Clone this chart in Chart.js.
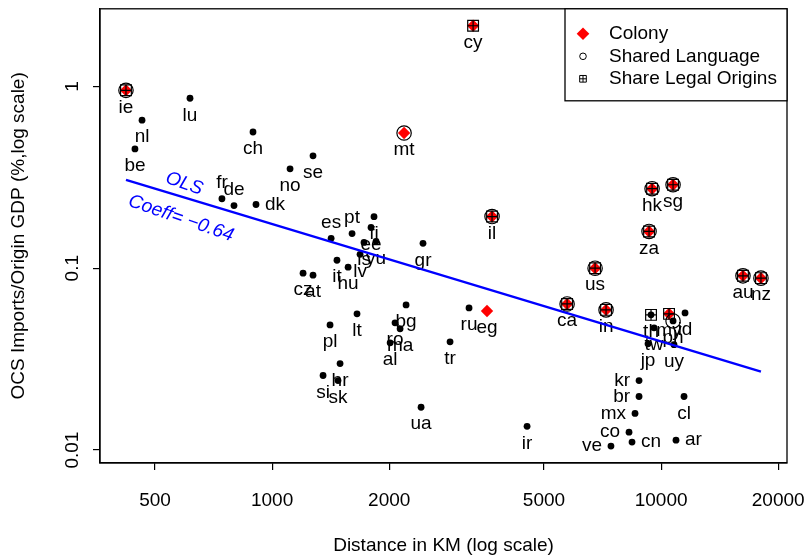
<!DOCTYPE html>
<html><head><meta charset="utf-8">
<script src="https://cdn.jsdelivr.net/npm/chart.js@4/dist/chart.umd.min.js"></script>
<style>html,body{margin:0;padding:0;background:#fff;}</style>
</head><body>
<canvas id="c" width="805" height="558"></canvas>
<script>
// ---------------- DATA ----------------
const countries = ['ie','nl','be','lu','ch','mt','cy','se','no','fr','de','dk','es','pt','fi','ee','is','yu','lv','it','hu','cz','at','gr','il','ru','eg','lt','pl','bg','ro','ma','al','tr','hr','si','sk','ua','ir','ca','us','in','hk','sg','za','th','my','ph','id','tw','jp','uy','kr','br','mx','cl','co','ve','cn','ar','au','nz'];
const distanceKm = [421,463,444,615,893,2184,3286,1274,1112,743,798,909,1418,1605,1828,1796,1723,1850,1683,1468,1568,1201,1274,2443,3676,3208,3568,1653,1409,2210,2070,2133,2011,2867,1495,1352,1477,2415,4523,5732,6765,7219,9480,10733,9311,9421,10481,10733,11522,9592,9255,10795,8776,8776,8570,11454,8271,7432,8419,10922,16236,18059];
const importsShare = [0.951,0.652,0.453,0.860,0.561,0.554,2.154,0.415,0.352,0.241,0.221,0.224,0.146,0.155,0.192,0.1675,0.1387,0.1405,0.1193,0.1106,0.1013,0.0939,0.0916,0.137,0.1924,0.0605,0.0582,0.0561,0.0488,0.0628,0.0501,0.0464,0.0389,0.0394,0.0299,0.0257,0.0241,0.0172,0.0135,0.0636,0.100,0.0590,0.2737,0.2877,0.1593,0.0554,0.0561,0.0513,0.0568,0.0470,0.0384,0.0380,0.0241,0.0197,0.0159,0.0197,0.01254,0.01052,0.01106,0.01134,0.0908,0.0882];
const colonyList = ['ie','mt','cy','il','eg','ca','us','in','hk','sg','za','my','au','nz'];
const sharedLanguageList = ['ie','mt','il','ca','us','in','hk','sg','za','ph','au','nz'];
const legalOriginList = ['ie','cy','il','ca','us','in','hk','sg','za','th','my','au','nz'];
const olsDistance = [421, 18059];
const olsShare = [0.306, 0.027];
const olsText = ['OLS', 'Coeff= \u22120.64'];
const xTicks = [500, 1000, 2000, 5000, 10000, 20000];
const yTicks = [0.01, 0.1, 1];
const yTickLabels = ['0.01', '0.1', '1'];
const legendLabels = ['Colony', 'Shared Language', 'Share Legal Origins'];
const xTitle = 'Distance in KM (log scale)';
const yTitle = 'OCS Imports/Origin GDP (%,log scale)';

// label placement (style): default below
const labelAbove = ['fr','de','es','pt'];
const labelLeft = ['kr','br','mx','co','ve'];
const labelRight = ['dk','cn','ar'];

// ---------------- BUILD ----------------
const FONT = '"Liberation Sans", Arial, Helvetica, sans-serif';
const FS = 19;
const pts = countries.map((c,i)=>({x: distanceKm[i], y: importsShare[i], c}));
const pick = list => pts.filter(p => list.includes(p.c));

const labelPlugin = {
  id: 'labels',
  beforeDatasetsDraw(chart) {
    const ctx = chart.ctx, meta = chart.getDatasetMeta(0);
    ctx.save();
    ctx.font = FS + 'px ' + FONT;
    ctx.fillStyle = '#000';
    meta.data.forEach((el, i) => {
      const c = countries[i];
      let x = el.x, y = el.y;
      ctx.textBaseline = 'middle';
      if (labelAbove.includes(c)) { ctx.textAlign = 'center'; ctx.fillText(c, x, y - 16); }
      else if (labelLeft.includes(c)) { ctx.textAlign = 'right'; ctx.fillText(c, x - 9, y); }
      else if (labelRight.includes(c)) { ctx.textAlign = 'left'; ctx.fillText(c, x + 9, y); }
      else { ctx.textAlign = 'center'; ctx.fillText(c, x, y + 17); }
    });
    ctx.restore();
  }
};

function pointGlyph(ctx, style, r, x, y, fill, stroke, lw) {
  ctx.save();
  ctx.fillStyle = fill; ctx.strokeStyle = stroke; ctx.lineWidth = lw;
  if (Chart.helpers && Chart.helpers.drawPoint) {
    Chart.helpers.drawPoint(ctx, {pointStyle: style, radius: r, rotation: 0, borderWidth: lw}, x, y);
  }
  ctx.restore();
}

const framePlugin = {
  id: 'frame',
  afterDraw(chart) {
    const ctx = chart.ctx, a = chart.chartArea;
    const ys = chart.scales.y, xs = chart.scales.x;
    ctx.save();
    ctx.strokeStyle = '#000'; ctx.lineWidth = 1.3;
    ctx.strokeRect(a.left, a.top, a.right - a.left, a.bottom - a.top);
    ctx.font = FS + 'px ' + FONT; ctx.fillStyle = '#000';
    ctx.textAlign = 'center'; ctx.textBaseline = 'middle';
    yTicks.forEach((v, i) => {
      const py = ys.getPixelForValue(v);
      ctx.save(); ctx.translate(a.left - 27, py); ctx.rotate(-Math.PI/2);
      ctx.fillText(yTickLabels[i], 0, 0); ctx.restore();
    });
    ctx.fillStyle = '#0000FF';
    ctx.font = 'italic ' + FS + 'px ' + FONT;
    const ang = 19 * Math.PI / 180;
    const ann = [[594, 0.2914], [583, 0.1877]];
    ann.forEach((p, i) => {
      const px = xs.getPixelForValue(p[0]), py = ys.getPixelForValue(p[1]);
      ctx.save(); ctx.translate(px, py); ctx.rotate(ang);
      ctx.fillText(olsText[i], 0, 0); ctx.restore();
    });
    const lw = 222, lh = 92;
    const lx = a.right - lw, ly = a.top;
    ctx.fillStyle = '#fff';
    ctx.fillRect(lx, ly, lw, lh);
    ctx.strokeStyle = '#000'; ctx.lineWidth = 1.3;
    ctx.strokeRect(lx, ly, lw, lh);
    ctx.font = FS + 'px ' + FONT; ctx.fillStyle = '#000';
    ctx.textAlign = 'left'; ctx.textBaseline = 'middle';
    const rows = [ly + 25, ly + 47.5, ly + 70];
    legendLabels.forEach((t, i) => ctx.fillText(t, lx + 44, rows[i]));
    const sx = lx + 18;
    pointGlyph(ctx, 'rectRot', 6.3, sx, rows[0], '#ff0000', '#ff0000', 0);
    pointGlyph(ctx, 'circle', 3.3, sx, rows[1], 'rgba(0,0,0,0)', '#000', 1);
    pointGlyph(ctx, 'rect', 4.7, sx, rows[2], 'rgba(0,0,0,0)', '#000', 1);
    pointGlyph(ctx, 'cross', 3.3, sx, rows[2], 'rgba(0,0,0,0)', '#000', 1);
    ctx.restore();
  }
};

const common = {showLine: false, pointHoverRadius: 0};
new Chart(document.getElementById('c'), {
  type: 'scatter',
  data: {
    datasets: [
      Object.assign({label: 'all', data: pts, pointStyle: 'circle', pointRadius: 3.4, backgroundColor: '#000', borderWidth: 0, order: 6}, common),
      Object.assign({label: 'colony', data: pick(colonyList), pointStyle: 'rectRot', pointRadius: 6.2, backgroundColor: '#ff0000', borderWidth: 0, order: 5}, common),
      Object.assign({label: 'lang', data: pick(sharedLanguageList), pointStyle: 'circle', pointRadius: 7.2, backgroundColor: 'rgba(0,0,0,0)', borderColor: '#000', borderWidth: 1.2, order: 4}, common),
      Object.assign({label: 'legalRect', data: pick(legalOriginList), pointStyle: 'rect', pointRadius: 7.6, backgroundColor: 'rgba(0,0,0,0)', borderColor: '#000', borderWidth: 1.2, order: 3}, common),
      Object.assign({label: 'legalCross', data: pick(legalOriginList), pointStyle: 'cross', pointRadius: 5.4, borderColor: '#000', borderWidth: 1.2, order: 2}, common),
      {type: 'line', label: 'OLS', data: olsDistance.map((d,i)=>({x: d, y: olsShare[i]})), borderColor: '#0000FF', borderWidth: 2.3, pointRadius: 0, fill: false, order: 1}
    ]
  },
  options: {
    responsive: false, animation: false, devicePixelRatio: 1,
    layout: {padding: {top: 3, right: 18, left: 0, bottom: 0}},
    plugins: {legend: {display: false}, tooltip: {enabled: false}},
    events: [],
    scales: {
      x: {
        type: 'logarithmic', min: 361, max: 21070,
        afterBuildTicks: s => { s.ticks = xTicks.map(v => ({value: v})); },
        afterFit: s => { s.height = 95; s.paddingLeft = 0; s.paddingRight = 0; },
        ticks: {font: {family: FONT, size: FS}, color: '#000', padding: 19, autoSkip: false, maxRotation: 0, minRotation: 0, callback: v => String(v)},
        grid: {drawOnChartArea: false, drawTicks: true, tickLength: 7, color: '#000', lineWidth: 1.2},
        border: {display: true, color: '#000', width: 1.3},
        title: {display: true, text: xTitle, font: {family: FONT, size: FS}, color: '#000', padding: {top: 0, bottom: 1}}
      },
      y: {
        type: 'logarithmic', min: 0.00849, max: 2.67,
        afterBuildTicks: s => { s.ticks = yTicks.map(v => ({value: v})); },
        afterFit: s => { s.width = 100; s.paddingTop = 0; s.paddingBottom = 0; },
        ticks: {display: false},
        grid: {drawOnChartArea: false, drawTicks: true, tickLength: 7, color: '#000', lineWidth: 1.2},
        border: {display: true, color: '#000', width: 1.3},
        title: {display: true, text: yTitle, font: {family: FONT, size: FS}, color: '#000', padding: {top: 7, bottom: 0}}
      }
    }
  },
  plugins: [labelPlugin, framePlugin]
});
</script>
</body></html>
